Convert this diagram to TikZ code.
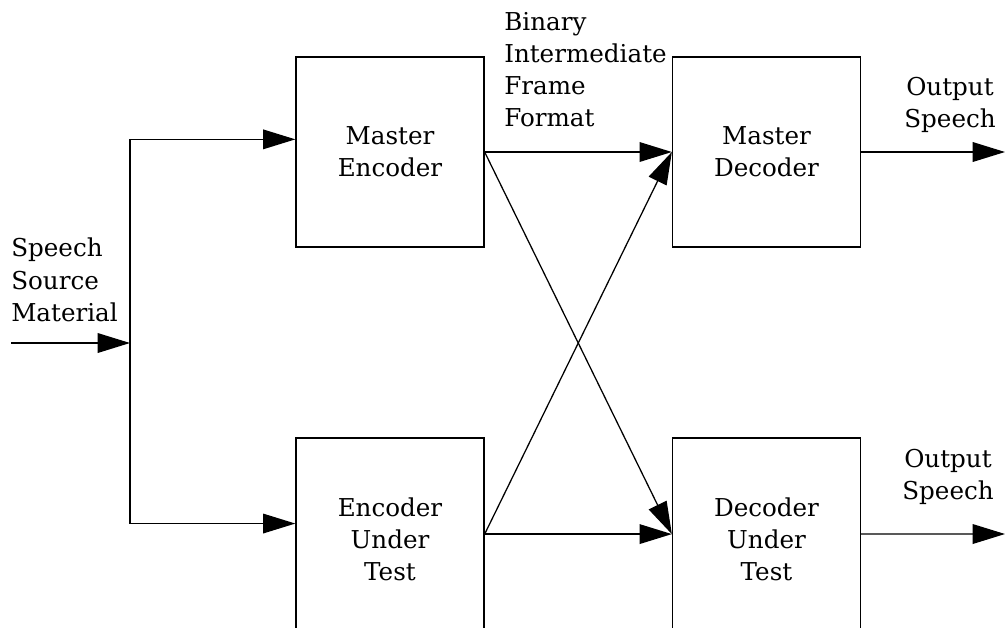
\documentclass[tikz,border=0pt]{standalone}
\usepackage{fontspec}
\setmainfont{DejaVu Serif}
\usetikzlibrary{arrows.meta}

\newcommand{\blocktextfont}{\fontsize{17.5}{22.8}\selectfont}

\tikzset{
  block/.style={draw, line width=0.9pt, minimum width=4.7cm, minimum height=4.75cm,
    inner sep=0pt, align=center, font=\blocktextfont},
  tallblock/.style={block, minimum height=5.05cm},
  tag/.style={inner sep=0pt, font=\blocktextfont},
  flow/.style={line width=0.9pt, -{Triangle[length=23pt,width=14pt]}},
  wire/.style={line width=0.9pt}
}

\begin{document}
\begin{tikzpicture}[x=0.025cm, y=-0.025cm]
% Fix the page size
\useasboundingbox (0,0) rectangle (1005,627);

% The four blocks (the lower two run off the page)
\node[block] (menc) at (390,152) {Master\\Encoder};
\node[block] (mdec) at (766.5,152) {Master\\Decoder};
\node[tallblock] (eut) at (390,539) {Encoder\\Under\\Test};
\node[tallblock] (dut) at (766.5,539) {Decoder\\Under\\Test};

% Free ends of the connectors
\coordinate (src) at (11,343);
\coordinate (split) at (130,343);
\coordinate (moutend) at (1005,152);
\coordinate (doutend) at (1005,534);

% Labels
\node[tag, anchor=north west, align=left] (srclabel) at (11,238) {Speech\\Source\\Material};
\node[tag, anchor=north west, align=left] (fmtlabel) at (504,12) {Binary\\Intermediate\\Frame\\Format};
\node[tag, anchor=north, align=center] (moutlabel) at (950,77) {Output\\Speech};
\node[tag, anchor=north, align=center] (doutlabel) at (948,449) {Output\\Speech};

% Source goes to both encoders
\draw[flow] (src) -- (split);
\draw[flow] (split) |- ([yshift=9pt]menc.west);
\draw[flow] (split) |- ([yshift=11pt]eut.west);

% Encoders to decoders
\draw[flow] (menc.east) -- (mdec.west);
\draw[flow] ([yshift=3.5pt]eut.east) -- ([yshift=3.5pt]dut.west);
\draw[flow] (menc.east) -- ([yshift=3.5pt]dut.west);
\draw[flow] ([yshift=3.5pt]eut.east) -- (mdec.west);

% Decoders to output
\draw[flow] (mdec.east) -- (moutend);
\draw[flow] ([yshift=3.5pt]dut.east) -- (doutend);
\end{tikzpicture}
\end{document}
